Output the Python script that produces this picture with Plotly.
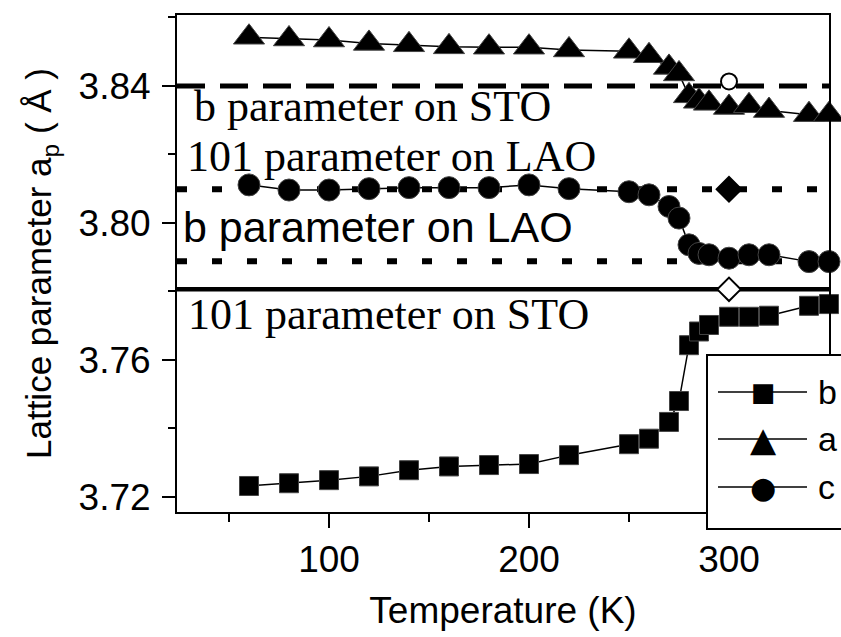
import plotly.graph_objects as go

# ---------------- data ----------------
temperature = [60, 80, 100, 120, 140, 160, 180, 200, 220, 250, 260, 270, 275,
               280, 285, 290, 300, 310, 320, 340, 350]
b_param = [3.7232, 3.7240, 3.7249, 3.7260, 3.7278, 3.7289, 3.7293, 3.7296, 3.7322,
           3.7354, 3.7370, 3.7419, 3.7480, 3.7643, 3.7683, 3.7702, 3.7726, 3.7726,
           3.7729, 3.7758, 3.7763]
a_param = [3.8542, 3.8537, 3.8534, 3.8524, 3.8520, 3.8514, 3.8513, 3.8513, 3.8505,
           3.8501, 3.8488, 3.8454, 3.8435, 3.8371, 3.8355, 3.8349, 3.8337, 3.8342,
           3.8328, 3.8316, 3.8316]
c_param = [3.8111, 3.8096, 3.8096, 3.8100, 3.8103, 3.8103, 3.8103, 3.8111, 3.8100,
           3.8091, 3.8082, 3.8048, 3.8014, 3.7936, 3.7911, 3.7907, 3.7897, 3.7907,
           3.7907, 3.7887, 3.7887]
series_names = ["b", "a", "c"]

ref_labels = ["b parameter on STO", "101 parameter on LAO",
              "b parameter on LAO", "101 parameter on STO"]
ref_values = [3.8400, 3.8098, 3.7888, 3.7806]

extra_T = [300, 300, 300]
extra_values = [3.8413, 3.8098, 3.7806]

x_range = [24, 350]
y_range = [3.7156, 3.8607]

# ---------------- figure ----------------
fig = go.Figure()

ref_styles = [
    dict(dash="28px,15px", width=5),
    dict(dash="10px,25px", width=6),
    dict(dash="10px,25px", width=6),
    dict(dash="solid", width=4.5),
]
for name, val, st in zip(ref_labels, ref_values, ref_styles):
    fig.add_trace(go.Scatter(
        x=x_range, y=[val, val], mode="lines", name=name, showlegend=False,
        line=dict(color="black", width=st["width"], dash=st["dash"]),
        hoverinfo="skip"))

series = [b_param, a_param, c_param]
symbols = ["square", "triangle-up", "circle"]
sizes = [19, 27, 22]
for name, vals, sym, sz in zip(series_names, series, symbols, sizes):
    fig.add_trace(go.Scatter(
        x=temperature, y=vals, mode="lines+markers", name=name, showlegend=False,
        line=dict(color="black", width=1.5),
        marker=dict(symbol=sym, size=sz, color="black",
                    line=dict(color="#444", width=1)),
        cliponaxis=False))

extra_symbols = ["circle", "diamond", "diamond"]
extra_sizes = [16, 19, 18]
extra_fill = ["white", "black", "white"]
for xt, yv, sym, sz, fc in zip(extra_T, extra_values, extra_symbols, extra_sizes, extra_fill):
    fig.add_trace(go.Scatter(
        x=[xt], y=[yv], mode="markers", showlegend=False,
        marker=dict(symbol=sym, size=sz, color=fc, opacity=1,
                    line=dict(color="black", width=2)),
        cliponaxis=False))

# text labels for reference lines
label_pos_T = [31.5, 28, 26, 28.5]
label_pos_y = [3.8339, 3.8193, 3.7988, 3.7734]
label_fonts = ["Liberation Serif", "Liberation Serif", "Liberation Sans", "Liberation Serif"]
label_sizes = [44, 44, 43, 44]
for txt, tx, ty, fam, fs in zip(ref_labels, label_pos_T, label_pos_y, label_fonts, label_sizes):
    fig.add_annotation(x=tx, y=ty, xref="x", yref="y", text=txt, showarrow=False,
                       xanchor="left", yanchor="middle",
                       font=dict(family=fam, size=fs, color="black"))

# ---------- manual legend ----------
L, R, T, B = 177, 829, 15, 512
W, H = R - L, B - T
def px(x):
    return (x - L) / W
def py(y):
    return (B - y) / H

fig.add_shape(type="rect", xref="paper", yref="paper",
              x0=px(707), x1=px(850), y0=py(529), y1=py(355),
              line=dict(color="black", width=2), fillcolor="white", layer="above")
rows = [392, 439, 487]
glyphs = ["\u25A0", "\u25B2", "\u25CF"]
glyph_sizes = [26, 34, 30]
for yy, g, gs, nm in zip(rows, glyphs, glyph_sizes, series_names):
    fig.add_shape(type="line", xref="paper", yref="paper",
                  x0=px(718), x1=px(807), y0=py(yy), y1=py(yy),
                  line=dict(color="black", width=1.5), layer="above")
    fig.add_annotation(x=px(763), y=py(yy), xref="paper", yref="paper", text=g,
                       showarrow=False, xanchor="center", yanchor="middle",
                       font=dict(family="DejaVu Sans", size=gs, color="black"))
    fig.add_annotation(x=px(816), y=py(yy), xref="paper", yref="paper", text=nm,
                       showarrow=False, xanchor="left", yanchor="middle",
                       font=dict(family="Liberation Sans", size=34, color="black"))

axis_font = dict(family="Liberation Sans", size=37, color="black")
fig.update_xaxes(range=x_range, showline=True, linecolor="black", linewidth=2,
                 mirror=True, ticks="outside", ticklen=14, tickwidth=2,
                 tickcolor="black", tick0=0, dtick=100, tickfont=axis_font,
                 minor=dict(ticks="outside", ticklen=8, tickwidth=2, dtick=50,
                            tick0=0, tickcolor="black"),
                 showgrid=False, zeroline=False,
                 title=dict(text="Temperature (K)", font=axis_font, standoff=18))
fig.update_yaxes(range=y_range, showline=True, linecolor="black", linewidth=2,
                 mirror=True, ticks="outside", ticklen=13, tickwidth=2,
                 tickcolor="black", tick0=3.72, dtick=0.04, tickformat=".2f",
                 tickfont=axis_font, ticklabelstandoff=4,
                 minor=dict(ticks="outside", ticklen=7, tickwidth=2, dtick=0.02,
                            tick0=3.72, tickcolor="black"),
                 showgrid=False, zeroline=False,
                 title=dict(text="Lattice parameter a<sub>p</sub> ( \u00C5 )",
                            font=dict(family="Liberation Sans", size=35, color="black"),
                            standoff=16))

fig.update_layout(width=841, height=637,
                  margin=dict(l=177, r=12, t=15, b=125, autoexpand=False),
                  paper_bgcolor="white", plot_bgcolor="white",
                  showlegend=False)

fig.write_html("out.html")
